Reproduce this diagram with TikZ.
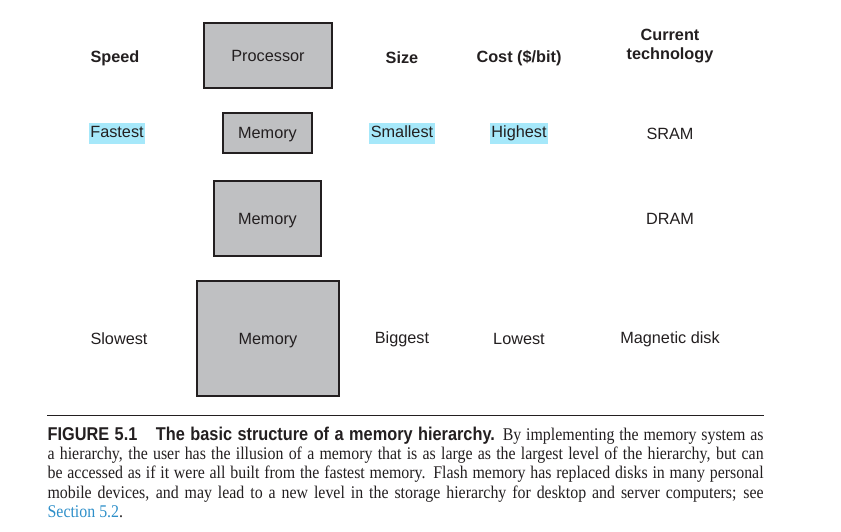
\documentclass[tikz,border=0pt]{standalone}
\usepackage{fontspec}
\setmainfont{Liberation Serif}
\setsansfont{Liberation Sans}
\newfontfamily\capsans[FakeStretch=0.88]{Liberation Sans}
\newfontfamily\capserif[FakeStretch=0.89]{Liberation Serif}
\usetikzlibrary{positioning}
\definecolor{cbox}{HTML}{BFC0C2}
\definecolor{chigh}{HTML}{A6E8FA}
\definecolor{ctext}{HTML}{231F20}
\definecolor{clink}{HTML}{2E8FC9}
\tikzset{
  every picture/.style={x=0.75pt, y=-0.75pt, line width=0.9pt},
  every node/.style={text=ctext, font=\sffamily\fontsize{12.2}{14.3}\selectfont},
  box/.style={draw=ctext, fill=cbox, inner sep=0pt, text depth=0pt},
  head/.style={font=\sffamily\bfseries\fontsize{12.2}{14.3}\selectfont, align=center},
  hilite/.style={fill=chigh, inner xsep=1pt, inner ysep=2pt, text height=8.8pt, text depth=2.6pt},
}
\begin{document}
\begin{tikzpicture}
  \useasboundingbox (0,0) rectangle (841,531);
  % hierarchy of boxes
  \node[box, minimum width=96pt, minimum height=48.75pt] (cpu) at (268,55.5) {Processor};
  \node[box, minimum width=66.75pt, minimum height=30pt] (m1) at (267.5,133) {Memory};
  \node[box, minimum width=80.25pt, minimum height=56.25pt] (m2) at (267.5,218.5) {Memory};
  \node[box, minimum width=106.5pt, minimum height=86.25pt] (m3) at (268,338.5) {Memory};
  % column heads
  \node[head] (speed) at (115,58) {Speed};
  \node[head] (size) at (402,58) {Size};
  \node[head] (cost) at (519,58) {Cost (\$/bit)};
  \node[head] (tech) at (670,46) {Current\\technology};
  % fastest level
  \node[hilite] (fast) at (117,133.5) {Fastest};
  \node[hilite] (small) at (402,133.5) {Smallest};
  \node[hilite] (high) at (519,133.5) {Highest};
  \node (sram) at (670,133.5) {SRAM};
  \node (dram) at (670,219) {DRAM};
  % slowest level
  \node (slow) at (119,339) {Slowest};
  \node (big) at (402,339) {Biggest};
  \node (low) at (519,339) {Lowest};
  \node (disk) at (670,339) {Magnetic disk};
  % caption
  \node[anchor=north west, inner sep=0pt, text width=537pt, align=justify,
        font=\capserif\fontsize{13.4}{14.6}\selectfont] (cap) at (47,426)
    {{\capsans\bfseries\fontsize{13.9}{14.6}\selectfont FIGURE 5.1\quad The basic structure of a memory hierarchy.}
     By implementing the memory system as\linebreak
     a hierarchy, the user has the illusion of a memory that is as large as the largest level of the hierarchy, but can\linebreak
     be accessed as if it were all built from the fastest memory. Flash memory has replaced disks in many personal\linebreak
     mobile devices, and may lead to a new level in the storage hierarchy for desktop and server computers; see\linebreak
     {\color{clink}Section 5.2}.};
  \draw[ctext, line width=0.75pt] ([yshift=8.2pt]cap.north west) -- ([yshift=8.2pt]cap.north east);
\end{tikzpicture}
\end{document}
